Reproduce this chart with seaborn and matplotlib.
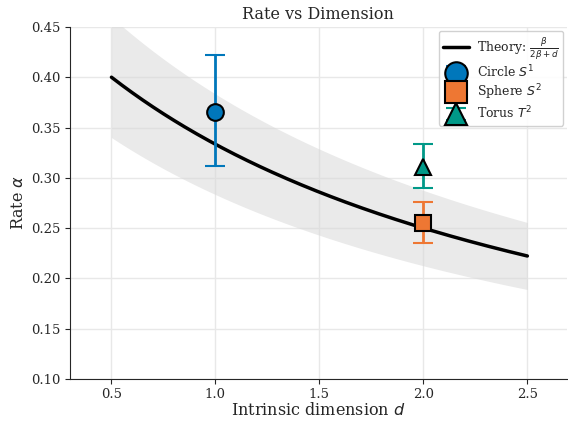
import numpy as np
import pandas as pd
import seaborn as sns
import matplotlib.pyplot as plt

beta = 1.0
band = 0.15
d_grid = np.linspace(0.5, 2.5, 200)

names = ["Circle $S^1$", "Sphere $S^2$", "Torus $T^2$"]
dims = [1.0, 2.0, 2.0]
rates = [0.365, 0.255, 0.311]
err_lo = [0.053, 0.020, 0.021]
err_hi = [0.057, 0.021, 0.023]
markers = ["o", "s", "^"]
colors = ["#0077BB", "#EE7733", "#009988"]

sns.set_style("ticks")
plt.rcParams["font.family"] = ["DejaVu Serif"]

theory = pd.DataFrame({"d": d_grid, "rate": beta / (2 * beta + d_grid)})

fig, ax = plt.subplots(figsize=(5.68, 4.21), dpi=100)
fig.subplots_adjust(left=0.123, right=0.998, bottom=0.1, top=0.936)

ax.fill_between(theory["d"], theory["rate"] * (1 - band), theory["rate"] * (1 + band),
                color="#d9d9d9", alpha=0.55, linewidth=0)
sns.lineplot(data=theory, x="d", y="rate", color="black", linewidth=2.5,
             label=r"Theory: $\frac{\beta}{2\beta+d}$", ax=ax)

for name, d, r, lo, hi, m, c in zip(names, dims, rates, err_lo, err_hi, markers, colors):
    ax.errorbar(d, r, yerr=[[lo], [hi]], fmt=m, color=c, markersize=12,
                markeredgecolor="black", markeredgewidth=1.5, ecolor=c,
                elinewidth=2, capsize=7, capthick=2, label=name, zorder=3)

ax.set_xlim(0.3, 2.69)
ax.set_ylim(0.10, 0.45)
ax.set_xticks([0.5, 1.0, 1.5, 2.0, 2.5])
ax.grid(True, color="#e8e8e8", linewidth=1)
ax.set_axisbelow(True)
sns.despine(ax=ax)
ax.tick_params(labelsize=9.5, pad=3)
ax.set_xlabel("Intrinsic dimension $d$", fontsize=11.5, labelpad=1)
ax.set_ylabel(r"Rate $\alpha$", fontsize=11.5, labelpad=3)
ax.set_title("Rate vs Dimension", fontsize=11.5)
ax.legend(loc="upper right", fontsize=9, framealpha=0.9, handlelength=2.1,
          labelspacing=0.2, markerscale=1.35, borderaxespad=0.3,
          handletextpad=0.6, borderpad=0.35)

fig.savefig("out.png", dpi=100)
